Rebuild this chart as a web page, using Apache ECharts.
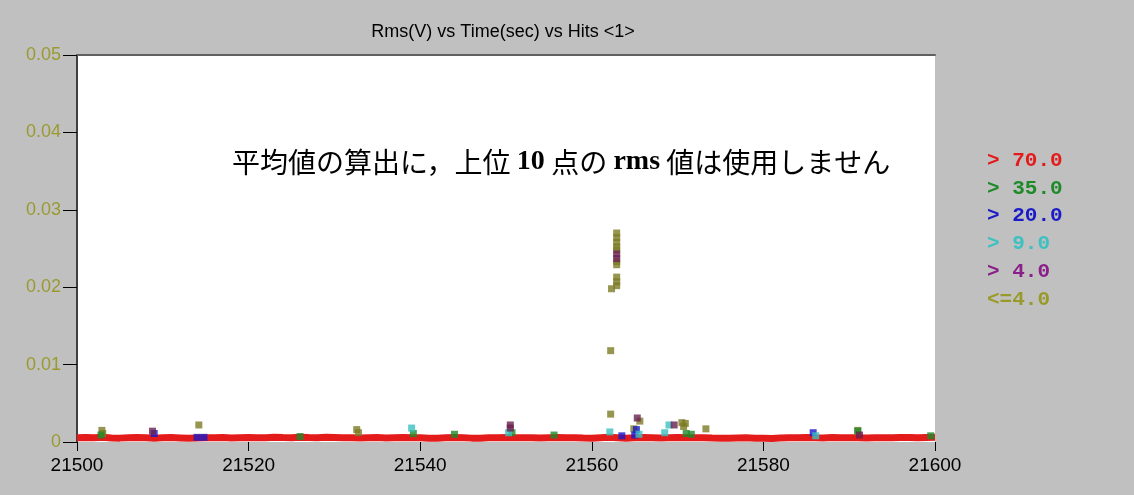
<!DOCTYPE html>
<html><head><meta charset="utf-8">
<script src="https://cdn.jsdelivr.net/npm/echarts@6/dist/echarts.min.js"></script>
<style>html,body{margin:0;padding:0;background:#c0c0c0;}#c{width:1134px;height:495px;}</style>
</head><body><div id="c"></div>
<script>
// ---- data ----
var titleText = 'Rms(V) vs Time(sec) vs Hits <1>';
var noteText = ['平均値の算出に，上位 ', '10', ' 点の ', 'rms', ' 値は使用しません'];
var legendLabels = ['> 70.0', '> 35.0', '> 20.0', '> 9.0', '> 4.0', '<=4.0'];
var xTicks = [21500, 21520, 21540, 21560, 21580, 21600];
var yTicks = [0, 0.01, 0.02, 0.03, 0.04, 0.05];
// red band (> 70.0): one value per second, 21500..21600
var redTimes = [];
for (var t = 21500; t <= 21600; t++) redTimes.push(t);
var redVals = [
0.00055,0.00058,0.00054,0.00060,0.00052,0.00050,0.00056,0.00058,0.00054,0.00050,
0.00055,0.00057,0.00053,0.00048,0.00052,0.00056,0.00054,0.00058,0.00052,0.00055,
0.00058,0.00056,0.00054,0.00060,0.00057,0.00055,0.00062,0.00058,0.00056,0.00060,
0.00058,0.00054,0.00056,0.00052,0.00055,0.00057,0.00053,0.00056,0.00058,0.00056,
0.00054,0.00048,0.00050,0.00055,0.00058,0.00056,0.00050,0.00048,0.00054,0.00056,
0.00058,0.00055,0.00054,0.00056,0.00052,0.00055,0.00057,0.00054,0.00056,0.00052,
0.00050,0.00055,0.00060,0.00054,0.00048,0.00056,0.00058,0.00055,0.00052,0.00056,
0.00058,0.00055,0.00054,0.00056,0.00052,0.00050,0.00048,0.00052,0.00054,0.00048,
0.00050,0.00046,0.00052,0.00056,0.00055,0.00058,0.00054,0.00052,0.00058,0.00055,
0.00056,0.00054,0.00052,0.00054,0.00055,0.00056,0.00058,0.00057,0.00055,0.00058,
0.00060
];
var greenPts = [[21502.8,0.0009],[21526.0,0.0007],[21539.2,0.0011],[21544.0,0.0010],[21550.7,0.0012],[21555.6,0.0009],[21571.0,0.0011],[21571.6,0.0010],[21591.0,0.0014],[21599.5,0.0008]];
var bluePts = [[21509.0,0.0011],[21514.0,0.0006],[21514.8,0.0006],[21563.5,0.0008],[21565.2,0.0016],[21565.0,0.0009],[21585.8,0.0012]];
var cyanPts = [[21539.0,0.0018],[21550.3,0.0012],[21562.1,0.0013],[21565.5,0.0010],[21569.0,0.0022],[21568.5,0.0012],[21586.1,0.0008]];
var purplePts = [[21508.8,0.0014],[21550.5,0.0022],[21550.5,0.0018],[21565.3,0.0031],[21569.6,0.0022],[21591.2,0.0009],[21562.9,0.0243],[21562.9,0.0237]];
var olivePts = [[21502.9,0.0015],[21503.0,0.0011],[21514.2,0.0022],[21532.6,0.0016],[21532.8,0.0012],[21562.2,0.0036],[21562.2,0.0118],
[21562.9,0.0270],[21562.9,0.0264],[21562.9,0.0258],[21562.9,0.0252],[21562.9,0.0248],[21562.9,0.0233],[21562.9,0.0229],
[21562.9,0.0213],[21562.9,0.0207],[21562.9,0.0202],[21562.3,0.0198],
[21565.6,0.0027],[21564.9,0.0017],[21570.5,0.0025],[21570.9,0.0024],[21570.7,0.0020],[21573.3,0.0017],[21591.0,0.0015]];

// ---- chart ----
var colors = ['#e41b1b','#1f8a2a','#1a1ac8','#3cc0c0','#8a1f8a','#9a9a2a'];
var chart = echarts.init(document.getElementById('c'));
var redData = redTimes.map(function(t,i){return [t, redVals[i]];});
function sc(name, data, color) {
  return {name:name, type:'scatter', data:data, symbol:'rect', symbolSize:7,
    itemStyle:{color:color}, animation:false};
}
var legendGraphics = legendLabels.map(function(l,i){
  return {type:'text', left:987, top:150 + i*27.8,
    style:{text:l, fill:colors[i], font:'bold 21px "Liberation Mono", "DejaVu Sans Mono", monospace'}};
});
var noteRich = {
  a:{fontFamily:'"Noto Sans CJK JP"', fontSize:28, fontWeight:'normal', fill:'#000'},
  b:{fontFamily:'"Liberation Serif", serif', fontSize:28, fontWeight:'bold', fill:'#000'}
};
var noteStr = '{a|' + noteText[0] + '}{b|' + noteText[1] + '}{a|' + noteText[2] + '}{b|' + noteText[3] + '}{a|' + noteText[4] + '}';
chart.setOption({
  backgroundColor:'#c0c0c0',
  animation:false,
  title:{text:titleText, left:498, top:18, textAlign:'center',
    textStyle:{fontFamily:'"Liberation Sans", Arial', fontSize:18, fontWeight:'normal', color:'#000'}},
  grid:{left:77, right:199, top:55, bottom:53, show:true, backgroundColor:'#ffffff', borderWidth:0},
  xAxis:[{type:'value', min:xTicks[0], max:xTicks[xTicks.length-1], interval:20, offset:4,
    axisLine:{show:false}, axisTick:{show:true, length:9, lineStyle:{color:'#000', width:1}},
    axisLabel:{margin:10, color:'#000', fontSize:19, fontFamily:'"Liberation Sans", Arial',
      formatter:function(v){return String(v);}},
    splitLine:{show:false}},
   {type:'value', position:'top', min:xTicks[0], max:xTicks[xTicks.length-1],
    axisLine:{show:true, lineStyle:{color:'#606060', width:2}}, axisTick:{show:false}, axisLabel:{show:false}, splitLine:{show:false}}],
  yAxis:{type:'value', min:yTicks[0], max:yTicks[yTicks.length-1], interval:0.01,
    axisLine:{show:true, lineStyle:{color:'#404040', width:2}},
    axisTick:{show:true, length:14, lineStyle:{color:'#000', width:1}},
    axisLabel:{margin:16, color:'#9a9a30', fontSize:18, fontFamily:'"Liberation Sans", Arial',
      formatter:function(v){return v===0?'0':v.toFixed(2);}},
    splitLine:{show:false}},
  series:[
    {name:legendLabels[0], type:'line', data:redData, showSymbol:false, symbol:'none',
      lineStyle:{color:colors[0], width:7}, z:1},
    sc(legendLabels[5], olivePts, '#7c7c24'),
    sc(legendLabels[1], greenPts, colors[1]),
    sc(legendLabels[2], bluePts, colors[2]),
    sc(legendLabels[3], cyanPts, colors[3]),
    sc(legendLabels[4], purplePts, '#6a2050')
  ],
  graphic:legendGraphics.concat([
    {type:'text', left:232, top:148, z:100, style:{text:noteStr, rich:noteRich}}
  ])
});
</script></body></html>
